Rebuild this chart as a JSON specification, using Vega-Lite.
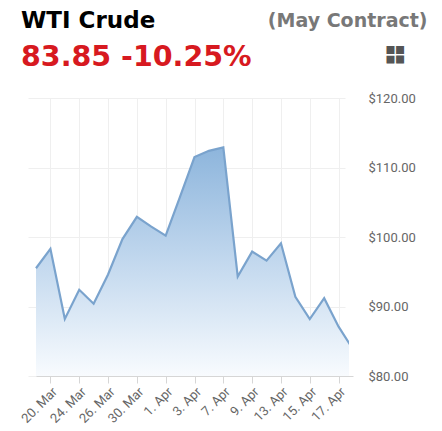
{
  "$schema": "https://vega.github.io/schema/vega-lite/v6.json",
  "autosize": "none",
  "width": 317,
  "height": 278,
  "padding": {"left": 32, "top": 98, "right": 93, "bottom": 55},
  "background": "#ffffff",
  "config": {"view": {"stroke": null}},
  "title": {
    "text": "WTI Crude",
    "subtitle": "83.85 -10.25%",
    "anchor": "start",
    "frame": "group",
    "dx": -11,
    "dy": 81.5,
    "offset": 22,
    "font": "DejaVu Sans",
    "fontSize": 23,
    "fontWeight": "bold",
    "color": "#000000",
    "subtitleFont": "DejaVu Sans",
    "subtitleFontSize": 28.5,
    "subtitleFontWeight": "bold",
    "subtitleColor": "#d71920",
    "subtitlePadding": 10
  },
  "data": {
    "values": [
      {"date": "19. Mar", "price": 95.5},
      {"date": "20. Mar", "price": 98.3},
      {"date": "23. Mar", "price": 88.2},
      {"date": "24. Mar", "price": 92.4},
      {"date": "25. Mar", "price": 90.4},
      {"date": "26. Mar", "price": 94.6},
      {"date": "27. Mar", "price": 99.7},
      {"date": "30. Mar", "price": 102.9},
      {"date": "31. Mar", "price": 101.5},
      {"date": "1. Apr", "price": 100.2},
      {"date": "2. Apr", "price": 105.8},
      {"date": "3. Apr", "price": 111.5},
      {"date": "6. Apr", "price": 112.4},
      {"date": "7. Apr", "price": 112.9},
      {"date": "8. Apr", "price": 94.3},
      {"date": "9. Apr", "price": 97.9},
      {"date": "10. Apr", "price": 96.6},
      {"date": "13. Apr", "price": 99.1},
      {"date": "14. Apr", "price": 91.4},
      {"date": "15. Apr", "price": 88.2},
      {"date": "16. Apr", "price": 91.2},
      {"date": "17. Apr", "price": 87.1},
      {"date": "20. Apr", "price": 83.85}
    ]
  },
  "encoding": {
    "x": {
      "field": "date",
      "type": "ordinal",
      "sort": null,
      "scale": {"type": "point", "range": [4, 321], "padding": 0},
      "axis": {
        "values": ["20. Mar", "24. Mar", "26. Mar", "30. Mar", "1. Apr", "3. Apr", "7. Apr", "9. Apr", "13. Apr", "15. Apr", "17. Apr"],
        "grid": true,
        "gridColor": "#efefef",
        "domainColor": "#d6d6d6",
        "tickColor": "#d6d6d6",
        "tickSize": 7,
        "labelAngle": -45,
        "labelFont": "Roboto",
        "labelFontSize": 13,
        "labelColor": "#666666",
        "labelPadding": 2,
        "title": "❖",
        "titleAngle": 45,
        "titleAlign": "center",
        "titleBaseline": "middle",
        "titleX": 361,
        "titleY": -320,
        "titleFont": "DejaVu Sans",
        "titleFontSize": 34,
        "titleFontWeight": "normal",
        "titleColor": "#555555"
      }
    },
    "y": {
      "field": "price",
      "type": "quantitative",
      "scale": {"domain": [80, 120], "nice": false, "zero": false},
      "axis": {
        "orient": "right",
        "values": [80, 90, 100, 110, 120],
        "format": "$.2f",
        "domain": false,
        "ticks": false,
        "tickSize": 0,
        "labelPadding": 19,
        "labelFont": "Roboto",
        "labelFontSize": 13,
        "labelColor": "#666666",
        "gridColor": "#efefef",
        "title": "(May Contract)",
        "titleAngle": 0,
        "titleAlign": "right",
        "titleBaseline": "alphabetic",
        "titleX": 78,
        "titleY": -71.5,
        "titleFont": "DejaVu Sans",
        "titleFontSize": 19,
        "titleFontWeight": "bold",
        "titleColor": "#787878"
      }
    }
  },
  "layer": [
    {
      "mark": {
        "type": "area",
        "clip": true,
        "color": {
          "gradient": "linear",
          "x1": 0, "y1": 0, "x2": 0, "y2": 1,
          "stops": [
            {"offset": 0, "color": "#8db5dc"},
            {"offset": 0.5, "color": "#c2d8ee"},
            {"offset": 1, "color": "#f8fbfe"}
          ]
        }
      },
      "encoding": {"y2": {"datum": 80}}
    },
    {
      "mark": {"type": "line", "clip": true, "color": "#7aa3cd", "strokeWidth": 2.2}
    }
  ]
}
